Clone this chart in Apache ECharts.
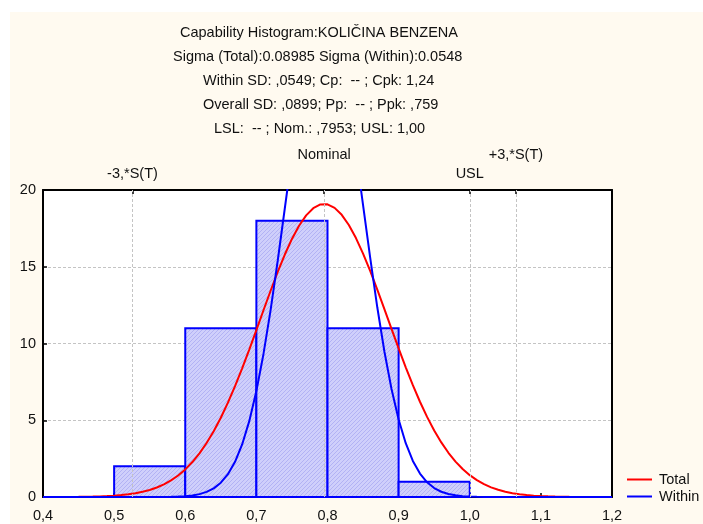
<!DOCTYPE html>
<html>
<head>
<meta charset="utf-8">
<script src="https://cdn.jsdelivr.net/npm/echarts@6/dist/echarts.min.js"></script>
<style>
html,body{margin:0;padding:0;background:#fff;}
#chart{width:703px;height:524px;}
</style>
</head>
<body>
<div id="chart"></div>
<script>
// ---- data ----
const titleLines = [
  'Capability Histogram:KOLIČINA BENZENA',
  'Sigma (Total):0.08985 Sigma (Within):0.0548',
  'Within SD: ,0549; Cp:  -- ; Cpk: 1,24',
  'Overall SD: ,0899; Pp:  -- ; Ppk: ,759',
  'LSL:  -- ; Nom.: ,7953; USL: 1,00'
];
const binLo = [0.5, 0.6, 0.7, 0.8, 0.9];
const binHi = [0.6, 0.7, 0.8, 0.9, 1.0];
const counts = [2, 11, 18, 11, 1];

const specValues = [0.5258, 0.7953, 1.0, 1.0649];
const specLabels = ['-3,*S(T)', 'Nominal', 'USL', '+3,*S(T)'];

const xs = [0.40,0.41,0.42,0.43,0.44,0.45,0.46,0.47,0.48,0.49,
  0.50,0.51,0.52,0.53,0.54,0.55,0.56,0.57,0.58,0.59,
  0.60,0.61,0.62,0.63,0.64,0.65,0.66,0.67,0.68,0.69,
  0.70,0.71,0.72,0.73,0.74,0.75,0.76,0.77,0.78,0.79,
  0.80,0.81,0.82,0.83,0.84,0.85,0.86,0.87,0.88,0.89,
  0.90,0.91,0.92,0.93,0.94,0.95,0.96,0.97,0.98,0.99,
  1.00,1.01,1.02,1.03,1.04,1.05,1.06,1.07,1.08,1.09,
  1.10,1.11,1.12,1.13,1.14,1.15,1.16,1.17,1.18,1.19,1.20];

const totalCurve = [0.001,0.002,0.003,0.005,0.008,0.012,0.018,0.027,0.040,0.059,
  0.086,0.123,0.175,0.244,0.337,0.459,0.619,0.823,1.081,1.403,
  1.798,2.276,2.846,3.515,4.286,5.164,6.145,7.220,8.380,9.606,
  10.877,12.164,13.436,14.659,15.797,16.811,17.672,18.348,18.815,19.057,
  19.064,18.836,18.382,17.718,16.868,15.860,14.730,13.512,12.242,10.954,
  9.681,8.451,7.287,6.205,5.219,4.335,3.556,2.882,2.308,1.824,
  1.424,1.099,0.837,0.629,0.468,0.343,0.249,0.178,0.126,0.088,
  0.061,0.041,0.028,0.018,0.012,0.008,0.005,0.003,0.002,0.001,0.001];

const withinCurve = [0,0,0,0,0,0,0,0,0,0,
  0,0,0,0,0,0.001,0.003,0.007,0.014,0.028,
  0.055,0.103,0.188,0.331,0.564,0.931,1.485,2.292,3.422,4.941,
  6.899,9.320,12.177,15.391,18.811,22.24,25.43,28.14,30.11,31.15,
  31.18,30.19,28.28,25.61,22.44,19.02,15.59,12.36,9.481,7.033,
  5.046,3.502,2.351,1.526,0.959,0.582,0.342,0.194,0.107,0.057,
  0.029,0.014,0.007,0.003,0.001,0,0,0,0,0,
  0,0,0,0,0,0,0,0,0,0,0];

const xTicks = [0.4, 0.5, 0.6, 0.7, 0.8, 0.9, 1.0, 1.1, 1.2];

// ---- chart ----
const FONT = "'Liberation Sans', Arial, sans-serif";
const TXT = '#111';
const FS = 14.5;

const titleLeft = [180, 173, 203, 203, 214];
const titleTop = [25, 49, 73, 97, 121];

// hatch pattern for histogram bars
const hatch = document.createElement('canvas');
hatch.width = 4; hatch.height = 4;
(function () {
  const c = hatch.getContext('2d');
  c.fillStyle = '#cfcffb';
  c.fillRect(0, 0, 4, 4);
  c.fillStyle = '#b2b2f4';
  for (let i = 0; i < 4; i++) c.fillRect(i, 3 - i, 1, 1);
})();

const chart = echarts.init(document.getElementById('chart'), null, {renderer: 'canvas'});

const option = {
  backgroundColor: '#fffaf0',
  animation: false,
  textStyle: {fontFamily: FONT},
  graphic: [
    {type: 'rect', left: 0, top: 0, shape: {width: 10, height: 524}, style: {fill: '#fff'}, silent: true},
    {type: 'rect', left: 0, top: 0, shape: {width: 703, height: 12}, style: {fill: '#fff'}, silent: true}
  ],
  title: titleLines.map((t, i) => ({
    text: t, left: titleLeft[i], top: titleTop[i], padding: 0,
    textStyle: {fontSize: FS, fontWeight: 'normal', color: TXT, fontFamily: FONT}
  })),
  legend: {
    orient: 'vertical', left: 627, top: 472, itemGap: 2, padding: 0,
    itemWidth: 25, itemHeight: 2, icon: 'rect',
    data: ['Total', 'Within'],
    textStyle: {fontSize: FS, color: TXT, fontFamily: FONT, padding: [0, 0, 0, 2]}
  },
  grid: {left: 43, right: 91, top: 190, bottom: 27, show: true, backgroundColor: '#fff', borderWidth: 0},
  xAxis: [{
    type: 'value', min: 0.4, max: 1.2, interval: 0.1, position: 'bottom',
    axisLine: {show: true, onZero: false, lineStyle: {color: '#000', width: 2}},
    axisTick: {show: true, inside: true, length: 4, lineStyle: {color: '#000', width: 1.5}},
    axisLabel: {fontSize: FS, color: TXT, margin: 11, fontFamily: FONT,
      formatter: v => v.toFixed(1).replace('.', ','), customValues: xTicks},
    splitLine: {show: false}
  }, {
    type: 'value', min: 0.4, max: 1.2, position: 'top',
    axisLine: {show: true, onZero: false, lineStyle: {color: '#000', width: 2}},
    axisTick: {show: true, inside: true, length: 4, customValues: specValues, lineStyle: {color: '#000', width: 1.5}},
    axisLabel: {show: false},
    splitLine: {show: false}
  }],
  yAxis: [{
    type: 'value', min: 0, max: 20, interval: 5, position: 'left',
    axisLine: {show: true, onZero: false, lineStyle: {color: '#000', width: 2}},
    axisTick: {show: true, inside: true, length: 4, lineStyle: {color: '#000', width: 1.5}},
    axisLabel: {fontSize: FS, color: TXT, margin: 7, fontFamily: FONT},
    splitLine: {show: true, lineStyle: {color: '#c4c4c4', type: [3, 2], width: 1}}
  }, {
    type: 'value', min: 0, max: 20, interval: 5, position: 'right',
    axisLine: {show: true, onZero: false, lineStyle: {color: '#000', width: 2}},
    axisTick: {show: false}, axisLabel: {show: false}, splitLine: {show: false}
  }],
  series: [
    {
      type: 'line', name: '_grid', data: [], z: 1, silent: true,
      markLine: {
        silent: true, symbol: 'none', animation: false, precision: 4,
        lineStyle: {color: '#c4c4c4', type: [3, 2], width: 1},
        label: {show: true, position: 'end', fontSize: FS, color: TXT, fontFamily: FONT},
        data: specValues.map((v, i) => ({
          xAxis: v,
          label: {formatter: specLabels[i], distance: (i % 2 === 0) ? 9 : 28}
        }))
      }
    },
    {
      type: 'custom', name: 'hist', z: 2,
      data: binLo.map((b, i) => [b, binHi[i], counts[i]]),
      encode: {x: [0, 1], y: 2},
      renderItem: function (params, api) {
        const p0 = api.coord([api.value(0), api.value(2)]);
        const p1 = api.coord([api.value(1), 0]);
        return {
          type: 'rect',
          shape: {x: p0[0], y: p0[1], width: p1[0] - p0[0], height: p1[1] - p0[1]},
          style: {fill: {image: hatch, repeat: 'repeat'}, stroke: '#0000ff', lineWidth: 2}
        };
      }
    },
    {
      type: 'line', name: 'Total', z: 3, showSymbol: false, smooth: false, clip: true,
      data: xs.map((x, i) => [x, totalCurve[i]]),
      lineStyle: {color: '#ff0000', width: 2}, itemStyle: {color: '#ff0000'}
    },
    {
      type: 'line', name: 'Within', z: 4, showSymbol: false, smooth: false, clip: true,
      data: xs.map((x, i) => [x, withinCurve[i]]),
      lineStyle: {color: '#0000ff', width: 2}, itemStyle: {color: '#0000ff'}
    }
  ]
};
chart.setOption(option);
</script>
</body>
</html>
